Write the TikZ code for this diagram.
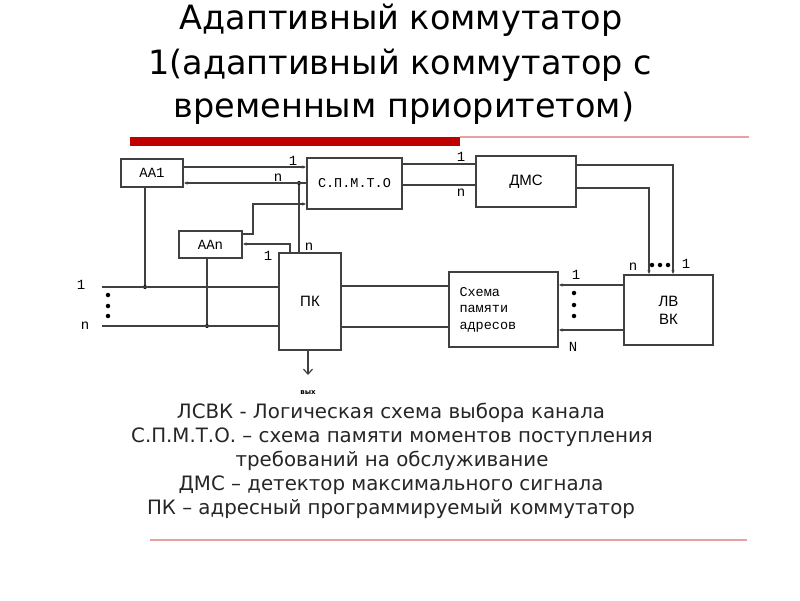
\documentclass[tikz,border=0pt]{standalone}
\usepackage{fontspec}
\setmainfont{DejaVu Sans}
\newfontfamily\monofnt{Liberation Mono}
\newfontfamily\sansfnt{Liberation Sans}
\usetikzlibrary{arrows.meta}
\definecolor{barred}{HTML}{C00000}
\definecolor{linered}{HTML}{E8A0A0}
\begin{document}
\begin{tikzpicture}[x=1pt,y=-1pt,
    blk/.style={draw=black!75,line width=1.2pt,inner sep=0pt,align=center},
    wire/.style={draw=black!75,line width=1.2pt},
    arr/.style={wire,-{Latex[length=4pt,width=3.5pt]}},
    lbl/.style={font=\monofnt\fontsize{14}{14}\selectfont,inner sep=0pt},
    pt/.style={circle,fill=black,inner sep=0pt,minimum size=4pt},
    ttl/.style={font=\fontsize{33.5}{33.5}\selectfont,anchor=base},
    leg/.style={font=\fontsize{19.8}{19.8}\selectfont,anchor=base,text=black!85}]
    \useasboundingbox (0,0) rectangle (800,600);
    \node[ttl] (t1) at (401,29) {Адаптивный коммутатор};
    \node[ttl] (t2) at (400,74) {1(адаптивный коммутатор с};
    \node[ttl] (t3) at (404,117) {временным приоритетом)};
    \draw[linered,line width=1.5pt] (460,137) -- (749,137);
    \draw[barred,line width=9pt] (130,141.5) -- (460,141.5);
    \node[blk,minimum width=62,minimum height=28,font=\monofnt\fontsize{14}{14}\selectfont] (aa1) at (152,173) {AA1};
    \node[blk,minimum width=63,minimum height=27,font=\monofnt\fontsize{14}{14}\selectfont] (aan) at (210.5,244.5) {AAn};
    \node[blk,minimum width=95,minimum height=51,font=\monofnt\fontsize{13.5}{13.5}\selectfont] (spmto) at (354.5,183.5) {С.П.М.Т.О};
    \node[blk,minimum width=100,minimum height=51,font=\sansfnt\fontsize{15}{15}\selectfont] (dms) at (526,181.5) {ДМС};
    \node[blk,minimum width=62,minimum height=97,font=\sansfnt\fontsize{15}{15}\selectfont] (pk) at (310,301.5) {ПК};
    \node[blk,minimum width=109,minimum height=75,text width=88,align=left,font=\monofnt\fontsize{13.5}{16.5}\selectfont] (mem) at (503.5,309.5) {Схема\\памяти\\адресов};
    \node[blk,minimum width=89,minimum height=70,font=\sansfnt\fontsize{15}{18}\selectfont] (lvvk) at (668.5,310) {ЛВ\\ВК};
    \node[pt] (d1) at (299,183) {};
    \node[pt] (d2) at (145,287) {};
    \node[pt] (d3) at (207,326) {};
    \coordinate (in1) at (102,287);
    \coordinate (inn) at (102,326);
    \coordinate (bend) at (253,204);
    \coordinate (out) at (308,375);
    \draw[arr] (aa1.east |- 0,167) -- (spmto.west |- 0,167);
    \draw[arr] (spmto.west |- d1) -- (aa1.east |- d1);
    \draw[wire] (d1) -- (d1 |- pk.north);
    \draw[arr] (aan.east |- 0,234) -| (bend) -- (spmto.west |- bend);
    \draw[arr] (pk.north -| 290,0) |- (aan.east |- 0,244);
    \draw[wire] (d2 |- aa1.south) -- (d2);
    \draw[wire] (d3 |- aan.south) -- (d3);
    \draw[wire] (in1) -- (in1 -| pk.west);
    \draw[wire] (inn) -- (inn -| pk.west);
    \draw[wire,-{Straight Barb[length=5pt,width=9pt]}] (pk.south -| out) -- (out);
    \draw[wire] (spmto.east |- 0,164) -- (dms.west |- 0,164);
    \draw[wire] (spmto.east |- 0,185) -- (dms.west |- 0,185);
    \draw[arr] (dms.east |- 0,165) -| (lvvk.north -| 673,0);
    \draw[arr] (dms.east |- 0,188) -| (lvvk.north -| 649,0);
    \draw[arr] (lvvk.west |- 0,285) -- (mem.east |- 0,285);
    \draw[arr] (lvvk.west |- 0,330) -- (mem.east |- 0,330);
    \draw[wire] (pk.east |- 0,286) -- (mem.west |- 0,286);
    \draw[wire] (pk.east |- 0,327) -- (mem.west |- 0,327);
    \node[lbl] (l1) at (293,161) {1};
    \node[lbl] (ln) at (278,178) {n};
    \node[lbl] (l2) at (268,256) {1};
    \node[lbl] (l3) at (309,247) {n};
    \node[lbl] (l4) at (461,157) {1};
    \node[lbl] (l5) at (461,193) {n};
    \node[lbl] (l6) at (633,267) {n};
    \node[lbl] (l7) at (686,264) {1};
    \node[lbl] (l8) at (576,275) {1};
    \node[lbl] (l9) at (573,347) {N};
    \node[lbl] (l10) at (81,285) {1};
    \node[lbl] (l11) at (85,326) {n};
    \foreach \i in {652,660,668} \node[pt,minimum size=4.5pt] at (\i,265) {};
    \foreach \j in {293,305,316} \node[pt,minimum size=4.5pt] at (574,\j) {};
    \foreach \j in {295,306,316} \node[pt,minimum size=4.5pt] at (108,\j) {};
    \node[font=\bfseries\fontsize{7}{7}\selectfont,inner sep=0pt] (vyh) at (308,393) {вых};
    \node[leg] (g1) at (391,418) {ЛСВК - Логическая схема выбора канала};
    \node[leg] (g2) at (392,442) {С.П.М.Т.О. – схема памяти моментов поступления};
    \node[leg] (g3) at (392,466) {требований на обслуживание};
    \node[leg] (g4) at (391,490) {ДМС – детектор максимального сигнала};
    \node[leg] (g5) at (391,514) {ПК – адресный программируемый коммутатор};
    \draw[linered,line width=1.5pt] (150,540) -- (747,540);
\end{tikzpicture}
\end{document}
